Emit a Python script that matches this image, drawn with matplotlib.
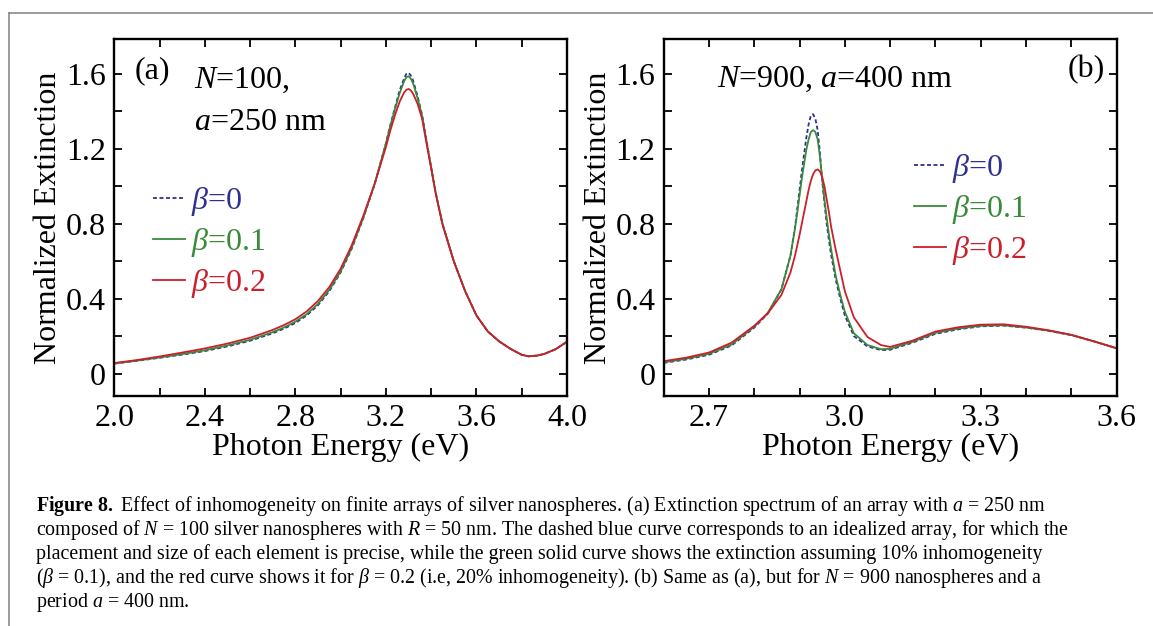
import matplotlib
matplotlib.use("Agg")
import matplotlib.pyplot as plt
from matplotlib.lines import Line2D
from matplotlib.ticker import MultipleLocator

plt.rcParams['font.family'] = ['Liberation Serif', 'DejaVu Serif']
plt.rcParams['mathtext.fontset'] = 'custom'
plt.rcParams['mathtext.rm'] = 'Liberation Serif'
plt.rcParams['mathtext.it'] = 'Liberation Serif:italic'
plt.rcParams['mathtext.bf'] = 'Liberation Serif:bold'

# ---------------- data: panel (a) N=100, a=250 nm ----------------
energy_a = [2.0, 2.1, 2.2, 2.3, 2.4, 2.5, 2.6, 2.7, 2.75, 2.8, 2.85, 2.9, 2.95, 3.0,
            3.05, 3.1, 3.15, 3.2,
            3.22, 3.24, 3.26, 3.28, 3.29, 3.30, 3.31, 3.32, 3.34, 3.36, 3.38, 3.40, 3.42,
            3.45, 3.5, 3.55, 3.6, 3.65, 3.7, 3.75, 3.8, 3.83, 3.87, 3.9, 3.95, 4.0]
ext_a_b0 = [0.053, 0.068, 0.084, 0.101, 0.120, 0.145, 0.175, 0.215, 0.240, 0.270, 0.310,
            0.365, 0.440, 0.540, 0.670, 0.830, 1.010, 1.230,
            1.330, 1.420, 1.510, 1.575, 1.600, 1.606, 1.592, 1.565, 1.480, 1.380, 1.240,
            1.100, 0.965,
            0.800, 0.600, 0.440, 0.310, 0.225, 0.172, 0.132, 0.100, 0.092, 0.096, 0.105,
            0.130, 0.170]
ext_a_b1 = [0.054, 0.069, 0.086, 0.104, 0.124, 0.150, 0.180, 0.221, 0.246, 0.277, 0.317,
            0.372, 0.447, 0.546, 0.675, 0.833, 1.012, 1.228,
            1.325, 1.412, 1.495, 1.560, 1.582, 1.588, 1.575, 1.550, 1.470, 1.375, 1.235,
            1.100, 0.965,
            0.800, 0.600, 0.440, 0.310, 0.225, 0.172, 0.132, 0.100, 0.092, 0.096, 0.105,
            0.130, 0.170]
ext_a_b2 = [0.056, 0.072, 0.091, 0.112, 0.134, 0.160, 0.191, 0.233, 0.259, 0.290, 0.332,
            0.388, 0.462, 0.560, 0.688, 0.842, 1.012, 1.210,
            1.300, 1.380, 1.450, 1.500, 1.515, 1.520, 1.512, 1.495, 1.440, 1.360, 1.225,
            1.095, 0.960,
            0.795, 0.598, 0.440, 0.310, 0.225, 0.172, 0.132, 0.100, 0.092, 0.096, 0.105,
            0.130, 0.170]

# ---------------- data: panel (b) N=900, a=400 nm ----------------
energy_b = [2.6, 2.65, 2.7, 2.75, 2.8, 2.83, 2.86, 2.88,
            2.89, 2.895, 2.90, 2.905, 2.91, 2.915, 2.92, 2.925, 2.93, 2.935, 2.94,
            2.945, 2.95, 2.955, 2.96, 2.965, 2.97,
            2.98, 2.99, 3.0, 3.02, 3.05, 3.08, 3.1,
            3.15, 3.2, 3.25, 3.3, 3.35, 3.4, 3.45, 3.5, 3.55, 3.6]
ext_b_b0 = [0.057, 0.075, 0.100, 0.150, 0.245, 0.320, 0.450, 0.630,
            0.780, 0.880, 0.980, 1.080, 1.170, 1.260, 1.330, 1.378, 1.385, 1.360, 1.300,
            1.180, 1.030, 0.910, 0.800, 0.710, 0.630,
            0.500, 0.400, 0.310, 0.200, 0.145, 0.125, 0.127,
            0.165, 0.212, 0.236, 0.252, 0.256, 0.245, 0.228, 0.205, 0.172, 0.135]
ext_b_b1 = [0.060, 0.079, 0.105, 0.155, 0.250, 0.325, 0.450, 0.630,
            0.775, 0.860, 0.950, 1.040, 1.120, 1.195, 1.250, 1.290, 1.300, 1.290, 1.250,
            1.160, 1.040, 0.930, 0.830, 0.740, 0.660,
            0.520, 0.420, 0.330, 0.215, 0.152, 0.130, 0.132,
            0.170, 0.217, 0.240, 0.255, 0.258, 0.246, 0.229, 0.206, 0.172, 0.135]
ext_b_b2 = [0.066, 0.085, 0.112, 0.165, 0.255, 0.322, 0.420, 0.540,
            0.630, 0.685, 0.740, 0.800, 0.860, 0.920, 0.980, 1.030, 1.065, 1.085, 1.090,
            1.080, 1.050, 1.000, 0.930, 0.860, 0.780,
            0.660, 0.550, 0.440, 0.300, 0.195, 0.152, 0.142,
            0.176, 0.224, 0.247, 0.261, 0.263, 0.250, 0.231, 0.207, 0.172, 0.135]

beta_labels = [r"$\beta$=0", r"$\beta$=0.1", r"$\beta$=0.2"]
colors = ['#2E3192', '#3A8A3A', '#CC1F2B']
styles = [(0, (2.2, 1.4)), '-', '-']

xticks_a = [2.0, 2.4, 2.8, 3.2, 3.6, 4.0]
xticks_b = [2.7, 3.0, 3.3, 3.6]
yticks = [0, 0.4, 0.8, 1.2, 1.6]
ytick_labels = ['0', '0.4', '0.8', '1.2', '1.6']

caption_lines = [
    r"$\mathbf{Figure\ 8.\ }$Effect of inhomogeneity on finite arrays of silver nanospheres. (a) Extinction spectrum of an array with $a$ = 250 nm",
    r"composed of $N$ = 100 silver nanospheres with $R$ = 50 nm. The dashed blue curve corresponds to an idealized array, for which the",
    r"placement and size of each element is precise, while the green solid curve shows the extinction assuming 10% inhomogeneity",
    r"($\beta$ = 0.1), and the red curve shows it for $\beta$ = 0.2 (i.e, 20% inhomogeneity). (b) Same as (a), but for $N$ = 900 nanospheres and a",
    r"period $a$ = 400 nm.",
]

# ---------------- figure ----------------
W, H = 1153, 626
fig = plt.figure(figsize=(W / 100, H / 100), dpi=100)

ax_a = fig.add_axes([114.3 / W, 1 - 396 / H, 452.7 / W, 356.7 / H])
ax_b = fig.add_axes([663.7 / W, 1 - 396 / H, 452.8 / W, 356.7 / H])

FS = 23

def style_axes(ax, xlim, xminor, xticks):
    ax.set_xlim(*xlim)
    ax.set_ylim(-0.12, 1.785)
    ax.set_xticks(xticks)
    ax.set_xticklabels([f"{t:.1f}" for t in xticks])
    ax.xaxis.set_minor_locator(MultipleLocator(xminor))
    ax.set_yticks(yticks)
    ax.set_yticklabels(ytick_labels)
    ax.yaxis.set_minor_locator(MultipleLocator(0.2))
    ax.tick_params(which='both', direction='in', top=True, right=True,
                   length=5.5, width=1.3, labelsize=FS, pad=6)
    for s in ax.spines.values():
        s.set_linewidth(1.7)
    ax.set_xlabel("Photon Energy (eV)", fontsize=FS, labelpad=0)
    ax.set_ylabel("Normalized Extinction", fontsize=FS, labelpad=2)

for ax, E, series in [(ax_a, energy_a, [ext_a_b0, ext_a_b1, ext_a_b2]),
                      (ax_b, energy_b, [ext_b_b0, ext_b_b1, ext_b_b2])]:
    for y, c, ls, lab in zip(series, colors, styles, beta_labels):
        ax.plot(E, y, color=c, linestyle=ls, linewidth=1.3, label=lab)

style_axes(ax_a, (2.0, 4.0), 0.2, xticks_a)
style_axes(ax_b, (2.6, 3.6), 0.1, xticks_b)

def add_legend(ax, anchor):
    leg = ax.legend(loc='upper left', bbox_to_anchor=anchor, frameon=False,
                    fontsize=FS, handlelength=1.0, handletextpad=0.2,
                    labelspacing=0.25, borderpad=0, borderaxespad=0)
    for t, c in zip(leg.get_texts(), colors):
        t.set_color(c)
    return leg

add_legend(ax_a, (0.085, 0.591))
add_legend(ax_b, (0.553, 0.683))

ax_a.text(0.046, 0.891, "(a)", transform=ax_a.transAxes, fontsize=FS, va='baseline')
ax_a.text(0.176, 0.8626, r"$N$=100,", transform=ax_a.transAxes, fontsize=FS, va='baseline')
ax_a.text(0.176, 0.7457, r"$a$=250 nm", transform=ax_a.transAxes, fontsize=FS, va='baseline')
ax_b.text(0.118, 0.867, r"$N$=900, $a$=400 nm", transform=ax_b.transAxes, fontsize=FS, va='baseline')
ax_b.text(0.975, 0.895, "(b)", transform=ax_b.transAxes, fontsize=FS, va='baseline', ha='right')

# frame lines around the figure block
ytop = 1 - 12.7 / H
xl = 9 / W
fig.add_artist(Line2D([xl, 1.0], [ytop, ytop], transform=fig.transFigure, color='#8a8a8a', lw=1.2))
fig.add_artist(Line2D([xl, xl], [0.0, ytop], transform=fig.transFigure, color='#8a8a8a', lw=1.2))

# caption
for i, line in enumerate(caption_lines):
    yb = 510.7 + 24 * i
    fig.text(36 / W, 1 - yb / H, line, fontsize=14.4, va='baseline', ha='left')

fig.savefig("out.png", dpi=100)
